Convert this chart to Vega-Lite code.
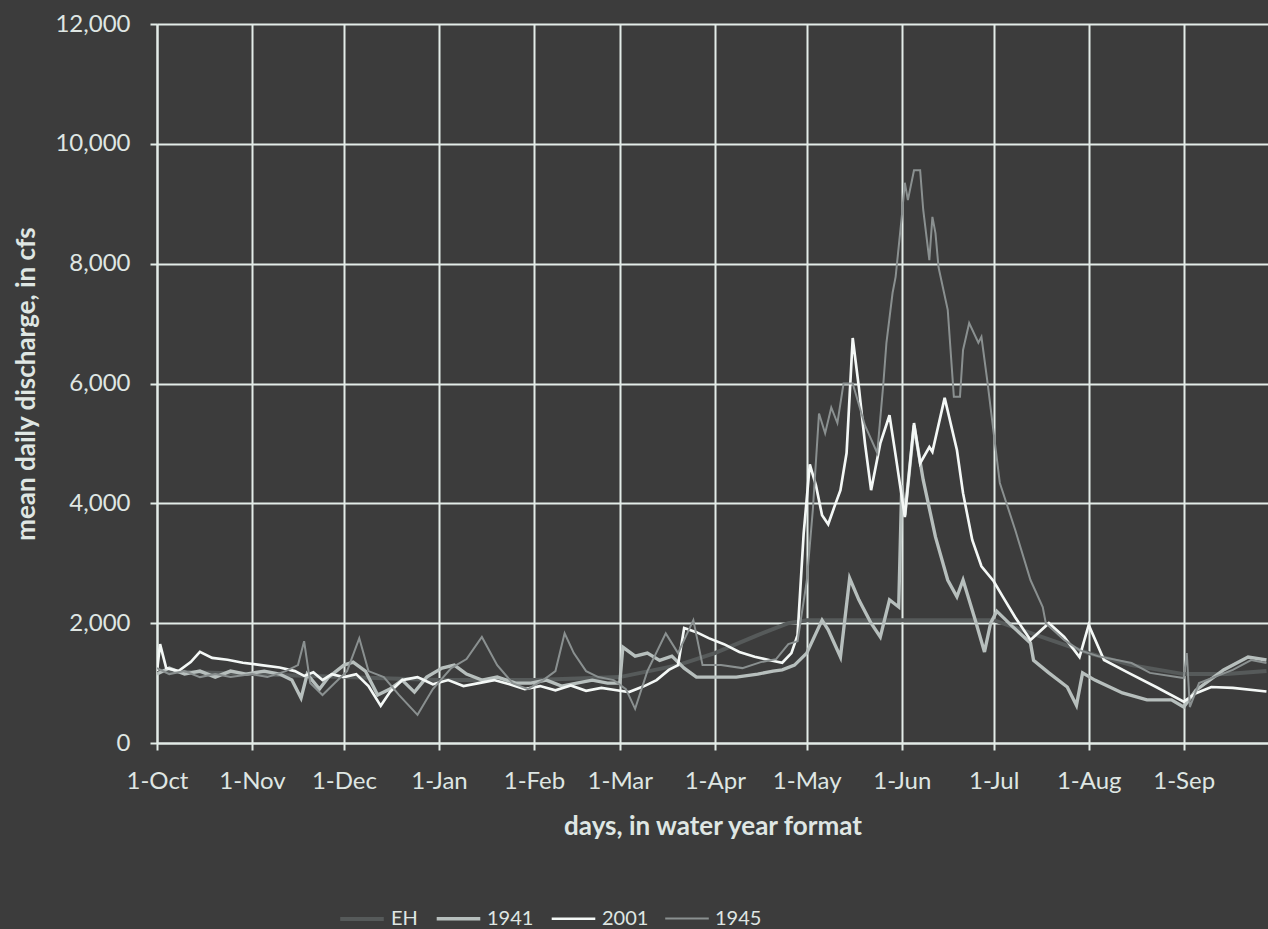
{
  "$schema": "https://vega.github.io/schema/vega-lite/v6.json",
  "width": 1111,
  "height": 719,
  "autosize": {"type": "none"},
  "padding": {"left": 157, "top": 24, "right": 0, "bottom": 186},
  "background": "#3c3c3c",
  "config": {
    "view": {"stroke": null},
    "font": "Lato",
    "axis": {
      "gridColor": "#e3ece8", "gridWidth": 2, "gridOpacity": 1,
      "domainColor": "#e3ece8", "domainWidth": 2,
      "tickColor": "#e3ece8", "tickWidth": 2, "tickSize": 7,
      "labelColor": "#dfe6e3", "labelFontSize": 24, "labelFont": "Lato",
      "titleColor": "#dfe6e3", "titleFontSize": 26, "titleFont": "Lato", "titleFontWeight": "bold"
    }
  },
  "data": {"values": [
    {"s":"EH","d":"2000-10-01","q":1200},{"s":"EH","d":"2000-11-01","q":1150},{"s":"EH","d":"2000-12-01","q":1100},{"s":"EH","d":"2001-01-01","q":1050},{"s":"EH","d":"2001-02-01","q":1050},{"s":"EH","d":"2001-03-01","q":1100},{"s":"EH","d":"2001-03-20","q":1300},{"s":"EH","d":"2001-04-01","q":1500},{"s":"EH","d":"2001-04-15","q":1800},{"s":"EH","d":"2001-04-25","q":2000},{"s":"EH","d":"2001-05-01","q":2050},{"s":"EH","d":"2001-06-01","q":2050},{"s":"EH","d":"2001-07-01","q":2050},{"s":"EH","d":"2001-07-15","q":1800},{"s":"EH","d":"2001-08-01","q":1500},{"s":"EH","d":"2001-08-15","q":1300},{"s":"EH","d":"2001-09-01","q":1150},{"s":"EH","d":"2001-09-15","q":1150},{"s":"EH","d":"2001-09-28","q":1200},

    {"s":"1941","d":"2000-10-01","q":1150},{"s":"1941","d":"2000-10-05","q":1250},{"s":"1941","d":"2000-10-10","q":1150},{"s":"1941","d":"2000-10-15","q":1200},{"s":"1941","d":"2000-10-20","q":1100},{"s":"1941","d":"2000-10-25","q":1200},{"s":"1941","d":"2000-10-30","q":1150},{"s":"1941","d":"2000-11-05","q":1200},{"s":"1941","d":"2000-11-10","q":1150},{"s":"1941","d":"2000-11-14","q":1050},{"s":"1941","d":"2000-11-17","q":750},{"s":"1941","d":"2000-11-19","q":1150},{"s":"1941","d":"2000-11-23","q":900},{"s":"1941","d":"2000-11-26","q":1100},{"s":"1941","d":"2000-12-01","q":1300},{"s":"1941","d":"2000-12-04","q":1350},{"s":"1941","d":"2000-12-08","q":1200},{"s":"1941","d":"2000-12-12","q":800},{"s":"1941","d":"2000-12-16","q":900},{"s":"1941","d":"2000-12-20","q":1050},{"s":"1941","d":"2000-12-24","q":850},{"s":"1941","d":"2000-12-28","q":1100},{"s":"1941","d":"2001-01-02","q":1250},{"s":"1941","d":"2001-01-06","q":1300},{"s":"1941","d":"2001-01-10","q":1150},{"s":"1941","d":"2001-01-15","q":1050},{"s":"1941","d":"2001-01-20","q":1100},{"s":"1941","d":"2001-01-26","q":1000},{"s":"1941","d":"2001-01-31","q":1000},{"s":"1941","d":"2001-02-05","q":1050},{"s":"1941","d":"2001-02-10","q":950},{"s":"1941","d":"2001-02-15","q":1000},{"s":"1941","d":"2001-02-20","q":1050},{"s":"1941","d":"2001-02-25","q":1000},{"s":"1941","d":"2001-03-01","q":1000},{"s":"1941","d":"2001-03-02","q":1600},{"s":"1941","d":"2001-03-06","q":1450},{"s":"1941","d":"2001-03-10","q":1500},{"s":"1941","d":"2001-03-14","q":1380},{"s":"1941","d":"2001-03-18","q":1450},{"s":"1941","d":"2001-03-22","q":1250},{"s":"1941","d":"2001-03-26","q":1100},{"s":"1941","d":"2001-04-01","q":1100},{"s":"1941","d":"2001-04-08","q":1100},{"s":"1941","d":"2001-04-15","q":1150},{"s":"1941","d":"2001-04-20","q":1200},{"s":"1941","d":"2001-04-23","q":1220},{"s":"1941","d":"2001-04-27","q":1300},{"s":"1941","d":"2001-05-01","q":1500},{"s":"1941","d":"2001-05-06","q":2050},{"s":"1941","d":"2001-05-08","q":1890},{"s":"1941","d":"2001-05-12","q":1435},{"s":"1941","d":"2001-05-15","q":2750},{"s":"1941","d":"2001-05-18","q":2390},{"s":"1941","d":"2001-05-22","q":2000},{"s":"1941","d":"2001-05-25","q":1770},{"s":"1941","d":"2001-05-28","q":2390},{"s":"1941","d":"2001-05-31","q":2270},{"s":"1941","d":"2001-06-01","q":4300},{"s":"1941","d":"2001-06-02","q":3800},{"s":"1941","d":"2001-06-05","q":5300},{"s":"1941","d":"2001-06-08","q":4390},{"s":"1941","d":"2001-06-12","q":3440},{"s":"1941","d":"2001-06-16","q":2720},{"s":"1941","d":"2001-06-19","q":2440},{"s":"1941","d":"2001-06-21","q":2720},{"s":"1941","d":"2001-06-25","q":2050},{"s":"1941","d":"2001-06-28","q":1520},{"s":"1941","d":"2001-06-30","q":2000},{"s":"1941","d":"2001-07-02","q":2200},{"s":"1941","d":"2001-07-07","q":1950},{"s":"1941","d":"2001-07-13","q":1670},{"s":"1941","d":"2001-07-14","q":1380},{"s":"1941","d":"2001-07-19","q":1170},{"s":"1941","d":"2001-07-25","q":935},{"s":"1941","d":"2001-07-28","q":630},{"s":"1941","d":"2001-07-30","q":1170},{"s":"1941","d":"2001-08-03","q":1050},{"s":"1941","d":"2001-08-12","q":835},{"s":"1941","d":"2001-08-20","q":720},{"s":"1941","d":"2001-08-28","q":720},{"s":"1941","d":"2001-09-01","q":600},{"s":"1941","d":"2001-09-05","q":880},{"s":"1941","d":"2001-09-14","q":1220},{"s":"1941","d":"2001-09-22","q":1435},{"s":"1941","d":"2001-09-28","q":1385},

    {"s":"2001","d":"2000-10-01","q":1200},{"s":"2001","d":"2000-10-02","q":1650},{"s":"2001","d":"2000-10-04","q":1250},{"s":"2001","d":"2000-10-08","q":1200},{"s":"2001","d":"2000-10-12","q":1350},{"s":"2001","d":"2000-10-15","q":1520},{"s":"2001","d":"2000-10-19","q":1420},{"s":"2001","d":"2000-10-24","q":1390},{"s":"2001","d":"2000-10-29","q":1340},{"s":"2001","d":"2000-11-04","q":1300},{"s":"2001","d":"2000-11-10","q":1260},{"s":"2001","d":"2000-11-15","q":1200},{"s":"2001","d":"2000-11-18","q":1120},{"s":"2001","d":"2000-11-21","q":1180},{"s":"2001","d":"2000-11-24","q":1050},{"s":"2001","d":"2000-11-27","q":1150},{"s":"2001","d":"2000-12-01","q":1100},{"s":"2001","d":"2000-12-05","q":1150},{"s":"2001","d":"2000-12-09","q":950},{"s":"2001","d":"2000-12-13","q":620},{"s":"2001","d":"2000-12-16","q":850},{"s":"2001","d":"2000-12-20","q":1050},{"s":"2001","d":"2000-12-25","q":1100},{"s":"2001","d":"2000-12-30","q":980},{"s":"2001","d":"2001-01-04","q":1050},{"s":"2001","d":"2001-01-09","q":950},{"s":"2001","d":"2001-01-14","q":1000},{"s":"2001","d":"2001-01-19","q":1050},{"s":"2001","d":"2001-01-24","q":980},{"s":"2001","d":"2001-01-29","q":900},{"s":"2001","d":"2001-02-03","q":950},{"s":"2001","d":"2001-02-08","q":880},{"s":"2001","d":"2001-02-13","q":960},{"s":"2001","d":"2001-02-18","q":870},{"s":"2001","d":"2001-02-23","q":920},{"s":"2001","d":"2001-02-28","q":880},{"s":"2001","d":"2001-03-04","q":850},{"s":"2001","d":"2001-03-09","q":950},{"s":"2001","d":"2001-03-13","q":1050},{"s":"2001","d":"2001-03-17","q":1220},{"s":"2001","d":"2001-03-20","q":1300},{"s":"2001","d":"2001-03-22","q":1920},{"s":"2001","d":"2001-03-26","q":1850},{"s":"2001","d":"2001-03-30","q":1750},{"s":"2001","d":"2001-04-04","q":1650},{"s":"2001","d":"2001-04-09","q":1520},{"s":"2001","d":"2001-04-14","q":1440},{"s":"2001","d":"2001-04-19","q":1380},{"s":"2001","d":"2001-04-23","q":1340},{"s":"2001","d":"2001-04-26","q":1500},{"s":"2001","d":"2001-04-28","q":1800},{"s":"2001","d":"2001-04-30","q":3500},{"s":"2001","d":"2001-05-02","q":4650},{"s":"2001","d":"2001-05-04","q":4300},{"s":"2001","d":"2001-05-06","q":3800},{"s":"2001","d":"2001-05-08","q":3650},{"s":"2001","d":"2001-05-10","q":3940},{"s":"2001","d":"2001-05-12","q":4220},{"s":"2001","d":"2001-05-14","q":4840},{"s":"2001","d":"2001-05-16","q":6760},{"s":"2001","d":"2001-05-18","q":5940},{"s":"2001","d":"2001-05-20","q":5000},{"s":"2001","d":"2001-05-22","q":4220},{"s":"2001","d":"2001-05-25","q":5000},{"s":"2001","d":"2001-05-28","q":5470},{"s":"2001","d":"2001-05-30","q":4800},{"s":"2001","d":"2001-06-02","q":3770},{"s":"2001","d":"2001-06-05","q":5340},{"s":"2001","d":"2001-06-07","q":4670},{"s":"2001","d":"2001-06-10","q":4940},{"s":"2001","d":"2001-06-11","q":4860},{"s":"2001","d":"2001-06-15","q":5760},{"s":"2001","d":"2001-06-19","q":4890},{"s":"2001","d":"2001-06-21","q":4170},{"s":"2001","d":"2001-06-24","q":3390},{"s":"2001","d":"2001-06-27","q":2950},{"s":"2001","d":"2001-07-01","q":2700},{"s":"2001","d":"2001-07-04","q":2440},{"s":"2001","d":"2001-07-08","q":2100},{"s":"2001","d":"2001-07-13","q":1720},{"s":"2001","d":"2001-07-19","q":2000},{"s":"2001","d":"2001-07-24","q":1770},{"s":"2001","d":"2001-07-29","q":1435},{"s":"2001","d":"2001-08-01","q":1970},{"s":"2001","d":"2001-08-06","q":1385},{"s":"2001","d":"2001-08-14","q":1170},{"s":"2001","d":"2001-08-23","q":935},{"s":"2001","d":"2001-09-01","q":690},{"s":"2001","d":"2001-09-05","q":830},{"s":"2001","d":"2001-09-10","q":935},{"s":"2001","d":"2001-09-17","q":920},{"s":"2001","d":"2001-09-28","q":860},

    {"s":"1945","d":"2000-10-01","q":1250},{"s":"1945","d":"2000-10-05","q":1150},{"s":"1945","d":"2000-10-10","q":1200},{"s":"1945","d":"2000-10-15","q":1100},{"s":"1945","d":"2000-10-20","q":1150},{"s":"1945","d":"2000-10-25","q":1100},{"s":"1945","d":"2000-11-01","q":1150},{"s":"1945","d":"2000-11-06","q":1100},{"s":"1945","d":"2000-11-12","q":1200},{"s":"1945","d":"2000-11-16","q":1300},{"s":"1945","d":"2000-11-18","q":1700},{"s":"1945","d":"2000-11-20","q":1000},{"s":"1945","d":"2000-11-24","q":800},{"s":"1945","d":"2000-11-28","q":1000},{"s":"1945","d":"2000-12-02","q":1200},{"s":"1945","d":"2000-12-06","q":1750},{"s":"1945","d":"2000-12-09","q":1200},{"s":"1945","d":"2000-12-14","q":1100},{"s":"1945","d":"2000-12-19","q":800},{"s":"1945","d":"2000-12-25","q":470},{"s":"1945","d":"2000-12-30","q":900},{"s":"1945","d":"2001-01-05","q":1250},{"s":"1945","d":"2001-01-10","q":1400},{"s":"1945","d":"2001-01-15","q":1770},{"s":"1945","d":"2001-01-20","q":1300},{"s":"1945","d":"2001-01-25","q":1000},{"s":"1945","d":"2001-01-30","q":900},{"s":"1945","d":"2001-02-04","q":1050},{"s":"1945","d":"2001-02-08","q":1200},{"s":"1945","d":"2001-02-11","q":1830},{"s":"1945","d":"2001-02-14","q":1500},{"s":"1945","d":"2001-02-18","q":1200},{"s":"1945","d":"2001-02-22","q":1100},{"s":"1945","d":"2001-02-27","q":1050},{"s":"1945","d":"2001-03-03","q":900},{"s":"1945","d":"2001-03-06","q":570},{"s":"1945","d":"2001-03-10","q":1200},{"s":"1945","d":"2001-03-16","q":1830},{"s":"1945","d":"2001-03-20","q":1500},{"s":"1945","d":"2001-03-25","q":2050},{"s":"1945","d":"2001-03-28","q":1300},{"s":"1945","d":"2001-04-03","q":1300},{"s":"1945","d":"2001-04-10","q":1250},{"s":"1945","d":"2001-04-16","q":1350},{"s":"1945","d":"2001-04-21","q":1400},{"s":"1945","d":"2001-04-25","q":1650},{"s":"1945","d":"2001-04-28","q":1700},{"s":"1945","d":"2001-05-01","q":2700},{"s":"1945","d":"2001-05-03","q":3900},{"s":"1945","d":"2001-05-05","q":5500},{"s":"1945","d":"2001-05-07","q":5170},{"s":"1945","d":"2001-05-09","q":5600},{"s":"1945","d":"2001-05-11","q":5340},{"s":"1945","d":"2001-05-13","q":6000},{"s":"1945","d":"2001-05-16","q":6000},{"s":"1945","d":"2001-05-20","q":5300},{"s":"1945","d":"2001-05-24","q":4840},{"s":"1945","d":"2001-05-26","q":6000},{"s":"1945","d":"2001-05-27","q":6680},{"s":"1945","d":"2001-05-29","q":7510},{"s":"1945","d":"2001-05-30","q":7780},{"s":"1945","d":"2001-06-01","q":8780},{"s":"1945","d":"2001-06-02","q":9350},{"s":"1945","d":"2001-06-03","q":9060},{"s":"1945","d":"2001-06-05","q":9560},{"s":"1945","d":"2001-06-07","q":9560},{"s":"1945","d":"2001-06-08","q":8900},{"s":"1945","d":"2001-06-10","q":8060},{"s":"1945","d":"2001-06-11","q":8780},{"s":"1945","d":"2001-06-12","q":8510},{"s":"1945","d":"2001-06-13","q":7940},{"s":"1945","d":"2001-06-16","q":7230},{"s":"1945","d":"2001-06-18","q":5780},{"s":"1945","d":"2001-06-20","q":5780},{"s":"1945","d":"2001-06-21","q":6560},{"s":"1945","d":"2001-06-23","q":7010},{"s":"1945","d":"2001-06-26","q":6680},{"s":"1945","d":"2001-06-27","q":6780},{"s":"1945","d":"2001-06-29","q":6010},{"s":"1945","d":"2001-07-01","q":5170},{"s":"1945","d":"2001-07-03","q":4340},{"s":"1945","d":"2001-07-08","q":3560},{"s":"1945","d":"2001-07-13","q":2720},{"s":"1945","d":"2001-07-17","q":2270},{"s":"1945","d":"2001-07-18","q":2000},{"s":"1945","d":"2001-07-24","q":1720},{"s":"1945","d":"2001-07-29","q":1550},{"s":"1945","d":"2001-08-04","q":1450},{"s":"1945","d":"2001-08-15","q":1335},{"s":"1945","d":"2001-08-21","q":1170},{"s":"1945","d":"2001-09-01","q":1085},{"s":"1945","d":"2001-09-02","q":1500},{"s":"1945","d":"2001-09-03","q":600},{"s":"1945","d":"2001-09-06","q":1000},{"s":"1945","d":"2001-09-17","q":1220},{"s":"1945","d":"2001-09-23","q":1385},{"s":"1945","d":"2001-09-28","q":1335}
  ]},
  "mark": {"type": "line", "clip": true, "interpolate": "linear"},
  "encoding": {
    "x": {
      "field": "d", "type": "temporal",
      "scale": {"type": "utc", "domain": ["2000-10-01T00:00:00Z", "2001-09-28T12:00:00Z"], "nice": false},
      "axis": {
        "title": "days, in water year format",
        "labelExpr": "'1-' + ['Jan','Feb','Mar','Apr','May','Jun','Jul','Aug','Sep','Oct','Nov','Dec'][utcmonth(datum.value)]",
        "tickCount": {"interval": "month", "step": 1},
        "labelPadding": 19, "labelFlush": false, "labelOverlap": false,
        "titleY": 83, "titleBaseline": "middle"
      }
    },
    "y": {
      "field": "q", "type": "quantitative",
      "scale": {"domain": [0, 12000], "nice": false},
      "axis": {
        "title": "mean daily discharge, in cfs",
        "values": [0, 2000, 4000, 6000, 8000, 10000, 12000],
        "labelExpr": "datum.value == 0 ? '0' : toString(datum.value / 1000) + ',000'",
        "labelPadding": 20,
        "titleX": -131, "titleAngle": -90,
        "titleAlign": "center", "titleBaseline": "middle"
      }
    },
    "color": {
      "field": "s", "type": "nominal",
      "scale": {"domain": ["EH", "1941", "2001", "1945"], "range": ["#565a5a", "#b7bfbd", "#f4f8f6", "#8a9090"]},
      "legend": {
        "title": null, "orient": "none", "legendX": 181, "legendY": 871,
        "direction": "horizontal", "symbolType": "stroke", "symbolSize": 1900,
        "symbolStrokeWidth": 3, "labelFontSize": 20, "labelColor": "#dfe6e3",
        "labelFont": "Lato", "columnPadding": 12, "labelOffset": 5
      }
    },
    "strokeWidth": {
      "field": "s", "type": "nominal",
      "scale": {"domain": ["EH", "1941", "2001", "1945"], "range": [4, 2, 3, 2]},
      "legend": null
    }
  }
}
